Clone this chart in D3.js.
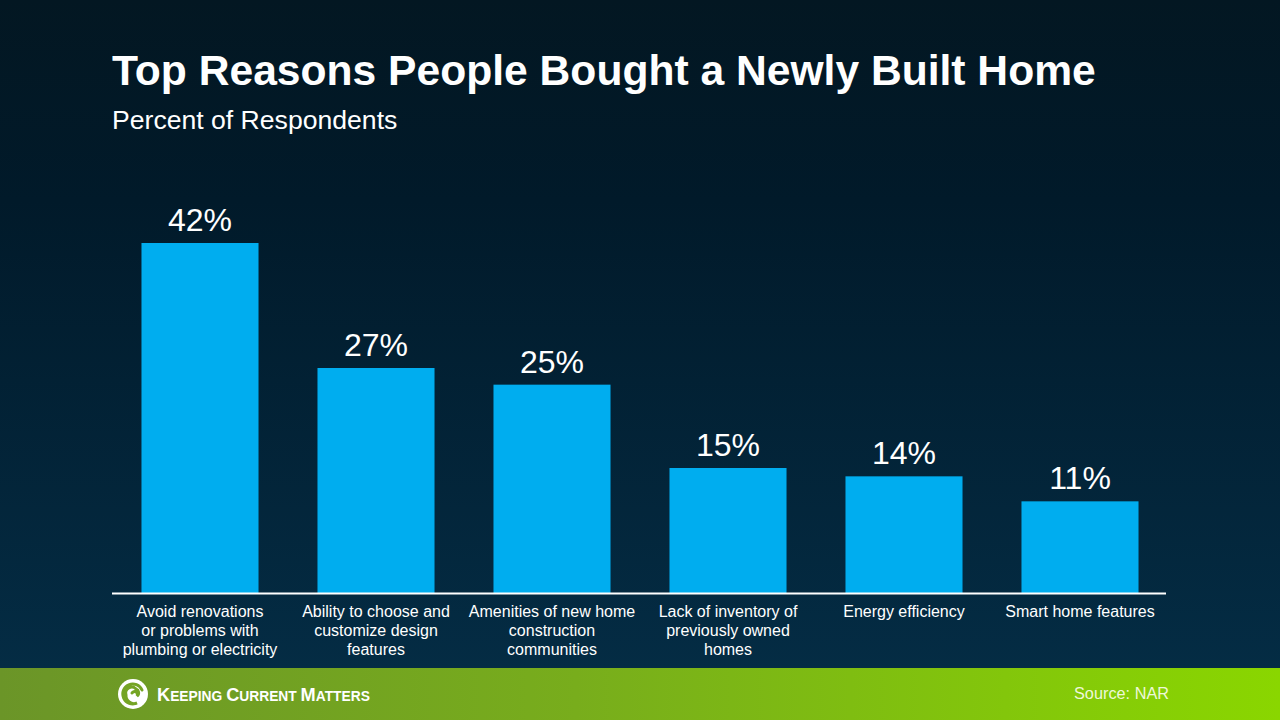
<!DOCTYPE html>
<html>
<head>
<meta charset="utf-8">
<script src="https://cdn.jsdelivr.net/npm/d3@7"></script>
<style>
	html, body { margin: 0; padding: 0; background: #021a28; }
	.c-svg { width: 1280px; height: 720px; }
	text { font-family: "Liberation Sans", Arial, sans-serif; }
</style>
</head>
<body>
<div class="c-svg"></div>
<script>
//DATA
//-------------------------------------------------------------------------
const categories = [
	["Avoid renovations", "or problems with", "plumbing or electricity"],
	["Ability to choose and", "customize design", "features"],
	["Amenities of new home", "construction", "communities"],
	["Lack of inventory of", "previously owned", "homes"],
	["Energy efficiency"],
	["Smart home features"]
];
const values = [42, 27, 25, 15, 14, 11];
const title = "Top Reasons People Bought a Newly Built Home";
const subtitle = "Percent of Respondents";
const source = "Source: NAR";

//INITIALISATION
//-------------------------------------------------------------------------
const opts = {
	width: 1280,
	height: 720,
	baseline: 593,
	top: 243
};

const svg = d3.select(".c-svg")
	.append("svg")
	.attr("width", opts.width)
	.attr("height", opts.height);

const defs = svg.append("defs");

const bg = defs.append("linearGradient")
	.attr("id", "bg")
	.attr("x1", 0).attr("y1", 0).attr("x2", 0).attr("y2", 1);
bg.append("stop").attr("offset", "0%").attr("stop-color", "#031722");
bg.append("stop").attr("offset", "30%").attr("stop-color", "#011a2a");
bg.append("stop").attr("offset", "100%").attr("stop-color", "#042c44");

const foot = defs.append("linearGradient")
	.attr("id", "foot")
	.attr("x1", 0).attr("y1", 0).attr("x2", 1).attr("y2", 0);
foot.append("stop").attr("offset", "0%").attr("stop-color", "#6b9528");
foot.append("stop").attr("offset", "45%").attr("stop-color", "#78ad1c");
foot.append("stop").attr("offset", "100%").attr("stop-color", "#8ad600");

svg.append("rect")
	.attr("width", opts.width)
	.attr("height", 668)
	.attr("fill", "url(#bg)");

svg.append("rect")
	.attr("y", 668)
	.attr("width", opts.width)
	.attr("height", 52)
	.attr("fill", "url(#foot)");

//TITLES
//-------------------------------------------------------------------------
svg.append("text")
	.attr("x", 112)
	.attr("y", 85)
	.attr("fill", "#ffffff")
	.style("font-size", "42.6px")
	.style("font-weight", "bold")
	.text(title);

svg.append("text")
	.attr("x", 112)
	.attr("y", 129)
	.attr("fill", "#ffffff")
	.style("font-size", "26.6px")
	.text(subtitle);

//SCALES
//-------------------------------------------------------------------------
const x = d3.scaleBand()
	.domain(d3.range(values.length))
	.range([112, 1168])
	.paddingInner(0.335)
	.paddingOuter(0.1675);

const y = d3.scaleLinear()
	.domain([0, 42])
	.range([opts.baseline, opts.top]);

//BARS
//-------------------------------------------------------------------------
const g = svg.append("g");

g.selectAll(".bar")
	.data(values)
	.join("rect")
	.attr("class", "bar")
	.attr("x", (d, i) => x(i))
	.attr("y", d => y(d))
	.attr("width", x.bandwidth())
	.attr("height", d => y(0) - y(d))
	.attr("fill", "#00adef");

g.selectAll(".val")
	.data(values)
	.join("text")
	.attr("class", "val")
	.attr("x", (d, i) => x(i) + x.bandwidth() / 2)
	.attr("y", d => y(d) - 12)
	.attr("text-anchor", "middle")
	.attr("fill", "#ffffff")
	.style("font-size", "32px")
	.text(d => d + "%");

//axis line
svg.append("line")
	.attr("x1", 112)
	.attr("x2", 1166)
	.attr("y1", opts.baseline + 0.5)
	.attr("y2", opts.baseline + 0.5)
	.attr("stroke", "#ffffff")
	.attr("stroke-width", 2);

//category labels
const labels = g.selectAll(".cat")
	.data(categories)
	.join("text")
	.attr("class", "cat")
	.attr("x", (d, i) => x(i) + x.bandwidth() / 2)
	.attr("y", 617)
	.attr("text-anchor", "middle")
	.attr("fill", "#ffffff")
	.style("font-size", "16px");

labels.selectAll("tspan")
	.data(d => d)
	.join("tspan")
	.attr("x", function(){ return d3.select(this.parentNode).attr("x"); })
	.attr("dy", (d, i) => i === 0 ? 0 : 19)
	.text(d => d);

//FOOTER
//-------------------------------------------------------------------------
const logo = svg.append("g")
	.attr("transform", "translate(133 694)");

logo.append("circle")
	.attr("r", 15)
	.attr("fill", "#ffffff");
logo.append("path")
	.attr("d", "M 9 -4 A 10 10 0 1 0 4 9 A 8 8 0 0 1 -7 1 A 6 6 0 0 1 3 -5 A 4 4 0 0 1 4 2 A 2.5 2.5 0 0 0 -1 -1")
	.attr("fill", "none")
	.attr("stroke", "#75a424")
	.attr("stroke-width", 3)
	.attr("stroke-linecap", "round");

//brand name in small caps
const brand = svg.append("text")
	.attr("x", 157)
	.attr("y", 701)
	.attr("fill", "#ffffff")
	.style("font-weight", "bold");

[["K", "EEPING "], ["C", "URRENT "], ["M", "ATTERS"]].forEach(w => {
	brand.append("tspan").style("font-size", "18.2px").text(w[0]);
	brand.append("tspan").style("font-size", "13.8px").text(w[1]);
});

svg.append("text")
	.attr("x", 1074)
	.attr("y", 699)
	.attr("fill", "#eef8d8")
	.style("font-size", "16.3px")
	.text(source);
</script>
</body>
</html>
